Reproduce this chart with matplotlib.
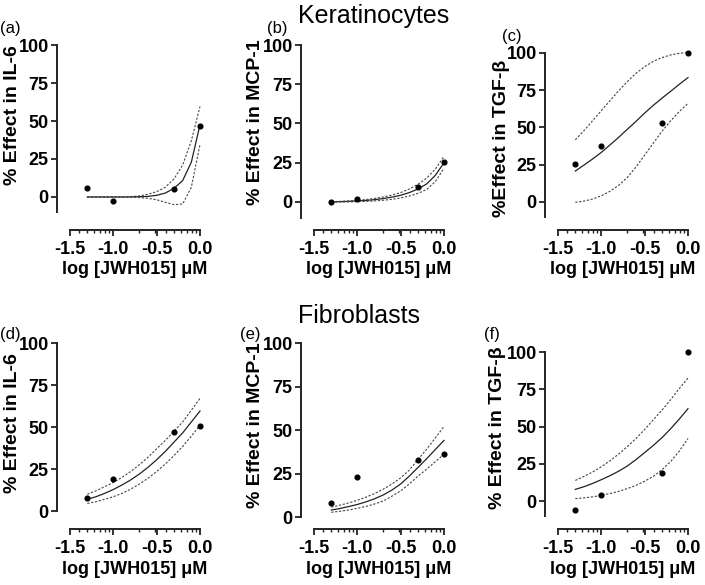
import matplotlib.pyplot as plt
import numpy as np

plt.rcParams['font.family'] = ['Liberation Sans', 'DejaVu Sans']
plt.rcParams['font.weight'] = 'bold'
plt.rcParams['axes.labelweight'] = 'bold'

# Data
log_conc = [-1.3, -1.0, -0.3, 0.0]
curve_x = [-1.3, -1.2, -1.1, -1.0, -0.9, -0.8, -0.7, -0.6, -0.5, -0.4, -0.3, -0.2, -0.1, 0.0]

# Keratinocytes
kera_il6_pts = [6.0, -2.8, 5.3, 46.8]
kera_il6_fit = [0, 0, 0, 0, 0, 0.1, 0.2, 0.4, 1.1, 2.6, 5.7, 10.8, 22.9, 47.5]
kera_il6_hi = [0, 0, 0, 0, 0.05, 0.2, 0.7, 1.8, 3.5, 6.4, 11.9, 21, 37, 59.5]
kera_il6_lo = [0, 0, 0, 0, -0.05, -0.2, -0.4, -0.9, -1.8, -3.5, -5.0, -4.6, 6.4, 34.5]

kera_mcp_pts = [0.0, 2.1, 9.4, 25.6]
kera_mcp_fit = [0.1, 0.2, 0.4, 0.7, 1.0, 1.5, 2.2, 3.1, 4.3, 6.0, 8.3, 11.5, 17, 25]
kera_mcp_hi = [0.2, 0.4, 0.7, 1.1, 1.6, 2.3, 3.2, 4.4, 6.0, 8.3, 11.3, 15.2, 21, 29]
kera_mcp_lo = [0, 0.05, 0.1, 0.2, 0.4, 0.7, 1.1, 1.7, 2.6, 3.8, 5.5, 8.0, 13, 21.5]

kera_tgf_pts = [25.2, 37.8, 53.0, 100]
kera_tgf_fit = [20.8, 24.8, 28.9, 33.3, 38.3, 43.4, 48.8, 54.1, 59.7, 64.9, 69.7, 74.3, 79.0, 83.5]
kera_tgf_hi = [41.8, 47.9, 54.6, 61.3, 68, 74.7, 80.8, 86.4, 90.8, 94.4, 96.9, 98.7, 99.8, 100.4]
kera_tgf_lo = [-0.2, 0.6, 2, 4.2, 7.2, 11.2, 16.5, 23.5, 31.5, 39.5, 47.5, 54.5, 60.7, 66.2]

# Fibroblasts
fibr_il6_pts = [8.0, 19.2, 47.0, 50.6]
fibr_il6_fit = [7, 8.5, 10.5, 12.8, 15.5, 18.5, 22, 26, 30.5, 35.5, 41, 46.5, 53, 59.5]
fibr_il6_hi = [10, 12, 14.5, 17, 20, 23.5, 27.5, 32, 37, 42, 47.5, 53, 60, 67]
fibr_il6_lo = [4.5, 5.5, 7, 8.5, 10.5, 13, 16, 19.5, 23.5, 28, 33, 38.5, 44.5, 51]

fibr_mcp_pts = [7.8, 22.9, 33.0, 36.1]
fibr_mcp_fit = [4, 4.9, 6, 7.2, 8.7, 10.5, 12.7, 15.5, 19, 23.5, 28.5, 33.5, 38.8, 44]
fibr_mcp_hi = [5.7, 6.8, 8.1, 9.6, 11.4, 13.5, 16, 19, 22.5, 27, 33, 39, 45.5, 52]
fibr_mcp_lo = [2.7, 3.3, 4, 5, 6.1, 7.5, 9.2, 12, 15, 19, 23.5, 27.5, 31.8, 36]

fibr_tgf_pts = [-6.3, 3.8, 18.8, 100]
fibr_tgf_fit = [7.8, 9.6, 11.8, 14.3, 17, 20, 23.5, 27.8, 32.5, 37.3, 42.5, 48.5, 55, 62]
fibr_tgf_hi = [13.8, 16.5, 19.5, 23, 27, 31.5, 36.5, 42, 48, 54.5, 61, 68, 75.5, 82.5]
fibr_tgf_lo = [1.6, 2.1, 2.8, 3.8, 5, 6.5, 8.3, 10.5, 13.3, 16.5, 21, 26.5, 33.5, 42]

W, H = 705, 585
fig = plt.figure(figsize=(W / 100, H / 100), dpi=100)

# layout in pixels: x-left, x-right, y(100), y(0), y(x axis), spine bottom, ylabel centre, panel label centre
panels = [
    ('(a)', '% Effect in IL-6', kera_il6_pts, kera_il6_fit, kera_il6_hi, kera_il6_lo,
     70, 200, 45, 197, 230, -10, (12, 115), (10, 28)),
    ('(b)', '% Effect in MCP-1', kera_mcp_pts, kera_mcp_fit, kera_mcp_hi, kera_mcp_lo,
     314, 444, 45, 202, 230, -10, (256, 122), (277, 29)),
    ('(c)', '%Effect in TGF-β', kera_tgf_pts, kera_tgf_fit, kera_tgf_hi, kera_tgf_lo,
     558, 688, 53, 202, 230, -10, (501, 138), (512, 36)),
    ('(d)', '% Effect in IL-6', fibr_il6_pts, fibr_il6_fit, fibr_il6_hi, fibr_il6_lo,
     70, 200, 343, 511, 529, 0, (12, 423), (10, 334)),
    ('(e)', '% Effect in MCP-1', fibr_mcp_pts, fibr_mcp_fit, fibr_mcp_hi, fibr_mcp_lo,
     314, 444, 343, 517, 529, 0, (256, 425), (250, 334)),
    ('(f)', '% Effect in TGF-β', fibr_tgf_pts, fibr_tgf_fit, fibr_tgf_hi, fibr_tgf_lo,
     558, 688, 352, 501, 529, -10, (497, 428), (492, 335)),
]

minor_x = np.log10([0.04, 0.05, 0.06, 0.07, 0.08, 0.09,
                    0.2, 0.3, 0.4, 0.5, 0.6, 0.7, 0.8, 0.9])
px = 0.72  # points per pixel at dpi 100

for (tag, ylab, pts, fit, hi, lo, xl, xr, y100, y0, yax, ylo, ylab_c, tag_c) in panels:
    scale = (y0 - y100) / 100.0
    ybot = -(yax - y0) / scale
    w_px, h_px = xr - xl, yax - y100
    ax = fig.add_axes([xl / W, 1 - yax / H, w_px / W, h_px / H])
    ax.set_xlim(-1.5, 0.0)
    ax.set_ylim(ybot, 100)

    ax.plot(curve_x, fit, color='#222222', lw=0.9, clip_on=False)
    ax.plot(curve_x, hi, color='#444444', lw=0.8, ls=(0, (2.0, 1.5)), clip_on=False)
    ax.plot(curve_x, lo, color='#444444', lw=0.8, ls=(0, (2.0, 1.5)), clip_on=False)
    ax.plot(log_conc, pts, 'o', color='black', ms=3.4, clip_on=False, zorder=5)

    for s in ['top', 'right']:
        ax.spines[s].set_visible(False)
    ax.spines['left'].set_position(('outward', 13 * px))
    ax.spines['left'].set_bounds(ylo, 100)
    ax.spines['bottom'].set_bounds(-1.5, 0.0)
    for s in ['left', 'bottom']:
        ax.spines[s].set_linewidth(1.4)
        ax.spines[s].set_color('#222222')

    ax.set_yticks([0, 25, 50, 75, 100])
    ax.set_xticks([-1.5, -1.0, -0.5, 0.0])
    ax.set_xticklabels(['-1.5', '-1.0', '-0.5', '0.0'])
    ax.set_xticks(minor_x, minor=True)
    ax.tick_params(axis='both', which='major', length=4, width=1.3, color='#222222',
                   labelsize=13, pad=2)
    ax.tick_params(axis='x', which='major', pad=4)
    ax.tick_params(axis='x', which='minor', length=2.5, width=1.0, color='#222222')
    for lab in ax.get_xticklabels() + ax.get_yticklabels():
        lab.set_fontweight('bold')

    ax.set_xlabel('log [JWH015] μM', fontsize=13, fontweight='bold', va='center')
    ax.xaxis.set_label_coords(0.5, -40 / h_px)
    ax.set_ylabel(ylab, fontsize=14, fontweight='bold', va='center')
    ax.yaxis.set_label_coords((ylab_c[0] - xl) / w_px, (yax - ylab_c[1]) / h_px)

    fig.text(tag_c[0] / W, 1 - tag_c[1] / H, tag, fontsize=12, fontweight='normal',
             ha='center', va='center')

fig.text(298 / W, 1 - 23 / H, 'Keratinocytes', fontsize=18, fontweight='normal',
         ha='left', va='baseline')
fig.text(298 / W, 1 - 323 / H, 'Fibroblasts', fontsize=18, fontweight='normal',
         ha='left', va='baseline')

plt.savefig('out.png', dpi=100)
